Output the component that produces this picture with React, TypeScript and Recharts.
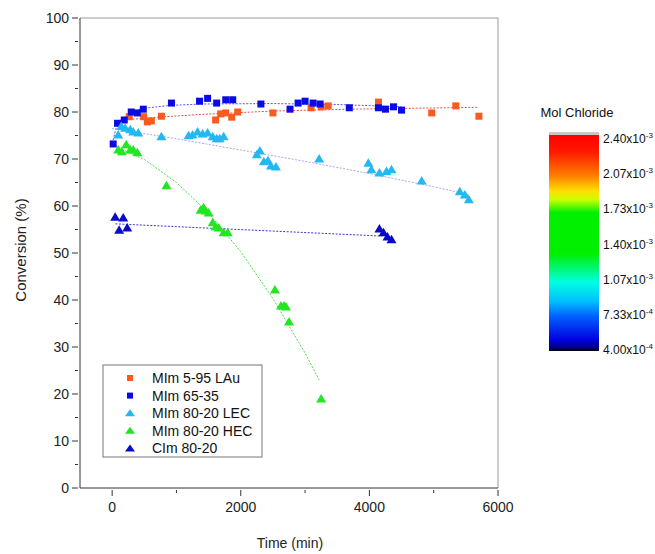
import React from 'react';
import { ScatterChart, Scatter, XAxis, YAxis, ReferenceLine } from 'recharts';

// ---- data (Time min, Conversion %) ----
const lauX = [266, 490, 547, 609, 766, 1609, 1688, 1766, 1859, 1953, 2500, 3094, 3250, 3359, 4141, 4969, 5344, 5703];
const lauY = [79.0, 79.0, 77.9, 78.1, 79.1, 78.3, 79.6, 79.8, 78.9, 80.0, 79.8, 80.9, 81.1, 81.3, 82.1, 79.8, 81.3, 79.1];

const m6535X = [16, 84, 188, 297, 391, 484, 922, 1359, 1484, 1625, 1766, 1875, 2313, 2766, 2891, 3000, 3125, 3234, 3688, 4141, 4250, 4375, 4500];
const m6535Y = [73.2, 77.6, 78.3, 80.0, 79.8, 80.6, 81.9, 82.3, 82.9, 81.9, 82.6, 82.6, 81.7, 80.6, 81.9, 82.3, 81.9, 81.7, 80.9, 80.9, 80.6, 81.1, 80.4];

const lecX = [94, 141, 203, 281, 328, 406, 766, 1188, 1250, 1328, 1406, 1484, 1563, 1625, 1672, 1734, 2297, 2250, 2359, 2422, 2469, 2547, 3219, 3984, 4031, 4156, 4266, 4344, 4813, 5406, 5484, 5547];
const lecY = [75.1, 76.9, 76.5, 76.2, 75.7, 75.5, 74.7, 74.9, 75.1, 75.7, 75.3, 75.5, 74.7, 74.3, 74.3, 74.7, 71.7, 70.9, 69.4, 69.6, 68.5, 68.3, 70.0, 69.1, 67.7, 67.0, 67.3, 67.7, 65.3, 63.0, 62.3, 61.3];

const hecX = [94, 151, 219, 281, 328, 391, 844, 1375, 1422, 1453, 1500, 1563, 1609, 1656, 1734, 1797, 2531, 2625, 2672, 2703, 2750, 3250];
const hecY = [71.9, 71.5, 73.0, 71.9, 71.9, 71.3, 64.3, 59.1, 59.6, 58.9, 58.5, 56.4, 55.5, 55.3, 54.3, 54.3, 42.1, 38.7, 38.7, 38.5, 35.3, 18.9];

const clmX = [47, 172, 109, 234, 4156, 4219, 4281, 4344];
const clmY = [57.6, 57.4, 54.8, 55.3, 55.1, 54.3, 53.4, 52.8];

// fitted trend lines
const lauFitX = [100, 700, 1400, 2500, 3700, 5700];
const lauFitY = [78.2, 78.9, 79.5, 80.2, 80.6, 81.0];
const m6535FitX = [0, 60, 150, 300, 500, 900, 1400, 2500, 3500, 4500];
const m6535FitY = [73.3, 76.5, 78.5, 80.0, 80.8, 81.4, 81.7, 81.8, 81.6, 81.1];
const lecFitX = [0, 1000, 2000, 3000, 4000, 5000, 5550];
const lecFitY = [76.5, 74.3, 71.9, 69.5, 66.9, 64.1, 62.4];
const hecFitX = [0, 500, 1000, 1500, 2000, 2500, 3000, 3219];
const hecFitY = [73.0, 69.9, 65.0, 58.5, 50.3, 40.3, 28.7, 23.0];
const clmFitX = [50, 4200];
const clmFitY = [56.2, 53.6];

const seriesNames = ['MIm 5-95 LAu', 'MIm 65-35', 'MIm 80-20 LEC', 'MIm 80-20 HEC', 'CIm 80-20'];
const seriesColors = ['#FA5A1E', '#0A0AE6', '#22B8F2', '#22E622', '#0A0ACC'];
const seriesShapes = ['square', 'square', 'triangle', 'triangle', 'triangle'];
const fitColors = ['#E85050', '#5A5AE0', '#A8A8EE', '#44DD44', '#3A3ACC'];

const xTicks = [0, 1000, 2000, 3000, 4000, 5000, 6000];
const yTicks = [0, 5, 10, 15, 20, 25, 30, 35, 40, 45, 50, 55, 60, 65, 70, 75, 80, 85, 90, 95, 100];

const cbLabels = [['2.40', '-3'], ['2.07', '-3'], ['1.73', '-3'], ['1.40', '-3'], ['1.07', '-3'], ['7.33', '-4'], ['4.00', '-4']];

const zip = (xs: number[], ys: number[]) => xs.map((x, i) => ({ x, y: ys[i] }));
const pointSets = [zip(lauX, lauY), zip(m6535X, m6535Y), zip(lecX, lecY), zip(hecX, hecY), zip(clmX, clmY)];
const fitSets = [zip(lauFitX, lauFitY), zip(m6535FitX, m6535FitY), zip(lecFitX, lecFitY), zip(hecFitX, hecFitY), zip(clmFitX, clmFitY)];

const FONT = 'Liberation Sans, Arial, sans-serif';

const makeShape = (kind: string, color: string) => (p: any) => {
  const { cx, cy } = p;
  if (cx == null || cy == null) return <g />;
  if (kind === 'square') {
    return <rect x={cx - 3.5} y={cy - 3.5} width={7} height={7} fill={color} />;
  }
  const h = 8.5;
  const w = 10;
  return (
    <polygon
      points={`${cx},${cy - h * 0.6} ${cx - w / 2},${cy + h * 0.4} ${cx + w / 2},${cy + h * 0.4}`}
      fill={color}
    />
  );
};

const noShape = () => <g />;

const YTick = (p: any) => {
  const { x, y, payload } = p;
  const v = payload.value;
  const major = v % 10 === 0;
  return (
    <g>
      <line x1={x + 6 - (major ? 6 : 3)} x2={x + 6} y1={y} y2={y} stroke="#333" strokeWidth={1} />
      {major && (
        <text x={x - 3} y={y} dy={5} textAnchor="end" fontSize={14} fontFamily={FONT} fill="#222">
          {v}
        </text>
      )}
    </g>
  );
};

const XTick = (p: any) => {
  const { x, y, payload } = p;
  const v = payload.value;
  const major = v % 2000 === 0;
  return (
    <g>
      <line x1={x} x2={x} y1={y - 6} y2={y - 6 + (major ? 6 : 3)} stroke="#333" strokeWidth={1} />
      {major && (
        <text x={x} y={y} dy={16} textAnchor="middle" fontSize={14} fontFamily={FONT} fill="#222">
          {v}
        </text>
      )}
    </g>
  );
};

export default function App() {
  return (
    <div style={{ position: 'absolute', left: 0, top: 0, width: 655, height: 554, background: '#fff' }}>
      <ScatterChart width={655} height={554} margin={{ top: 18, right: 157, bottom: 36, left: 30 }}>
        <XAxis
          type="number"
          dataKey="x"
          domain={[-500, 6000]}
          ticks={xTicks}
          allowDataOverflow
          stroke="#333"
          tickLine={false}
          tick={<XTick />}
          height={30}
        />
        <YAxis
          type="number"
          dataKey="y"
          domain={[0, 100]}
          ticks={yTicks}
          allowDataOverflow
          stroke="#333"
          tickLine={false}
          tick={<YTick />}
          width={50}
          interval={0}
        />
        <ReferenceLine y={100} stroke="#999" strokeWidth={1} />
        <ReferenceLine x={6000} stroke="#999" strokeWidth={1} />
        {fitSets.map((d, i) => (
          <Scatter
            key={'fit' + i}
            data={d}
            line={{ stroke: fitColors[i], strokeWidth: 1, strokeDasharray: '2 1.5' }}
            lineType="joint"
            shape={noShape}
            isAnimationActive={false}
          />
        ))}
        {pointSets.map((d, i) => (
          <Scatter
            key={'pts' + i}
            name={seriesNames[i]}
            data={d}
            shape={makeShape(seriesShapes[i], seriesColors[i])}
            isAnimationActive={false}
          />
        ))}
      </ScatterChart>
      <svg
        width={655}
        height={554}
        style={{ position: 'absolute', left: 0, top: 0, pointerEvents: 'none' }}
      >
        <defs>
          <linearGradient id="cb" x1="0" y1="0" x2="0" y2="1">
            <stop offset="0" stopColor="#FF0000" />
            <stop offset="0.08" stopColor="#FF1A00" />
            <stop offset="0.19" stopColor="#FF8000" />
            <stop offset="0.26" stopColor="#FFE000" />
            <stop offset="0.30" stopColor="#C8FF00" />
            <stop offset="0.36" stopColor="#00F000" />
            <stop offset="0.55" stopColor="#00F000" />
            <stop offset="0.68" stopColor="#00FFE0" />
            <stop offset="0.77" stopColor="#00C0FF" />
            <stop offset="0.84" stopColor="#0060FF" />
            <stop offset="0.95" stopColor="#0000E0" />
            <stop offset="0.985" stopColor="#000080" />
            <stop offset="1" stopColor="#000000" />
          </linearGradient>
        </defs>
        {/* axis titles */}
        <text
          x={0}
          y={0}
          transform="translate(26,250) rotate(-90)"
          textAnchor="middle"
          fontSize={15}
          fontFamily={FONT}
          fill="#222"
        >
          Conversion (%)
        </text>
        <text x={290} y={548} textAnchor="middle" fontSize={14} fontFamily={FONT} fill="#222">
          Time (min)
        </text>
        {/* legend */}
        <rect x={103} y={365} width={159} height={92} fill="#fff" stroke="#777" strokeWidth={1} />
        {seriesNames.map((n, i) => {
          const cy = 378 + i * 17.6;
          const c = seriesColors[i];
          return (
            <g key={n}>
              {seriesShapes[i] === 'square' ? (
                <rect x={130 - 3} y={cy - 3} width={6} height={6} fill={c} />
              ) : (
                <polygon points={`130,${cy - 4} ${125},${cy + 3} ${135},${cy + 3}`} fill={c} />
              )}
              <text x={152} y={cy + 5} fontSize={14} fontFamily={FONT} fill="#111">
                {n}
              </text>
            </g>
          );
        })}
        {/* colour bar */}
        <text x={577} y={117} textAnchor="middle" fontSize={13} fontFamily={FONT} fill="#111">
          Mol Chloride
        </text>
        <rect x={549} y={132} width={50} height={3} fill="#C8C8C8" />
        <rect x={549} y={135} width={50} height={216} fill="url(#cb)" />
        {cbLabels.map(([m, e], i) => {
          const y = 139 + i * 35.2;
          return (
            <text key={i} x={603} y={y + 4} fontSize={12} fontFamily={FONT} fill="#111">
              {m}x10
              <tspan dy={-5} fontSize={8}>
                {e}
              </tspan>
            </text>
          );
        })}
      </svg>
    </div>
  );
}
